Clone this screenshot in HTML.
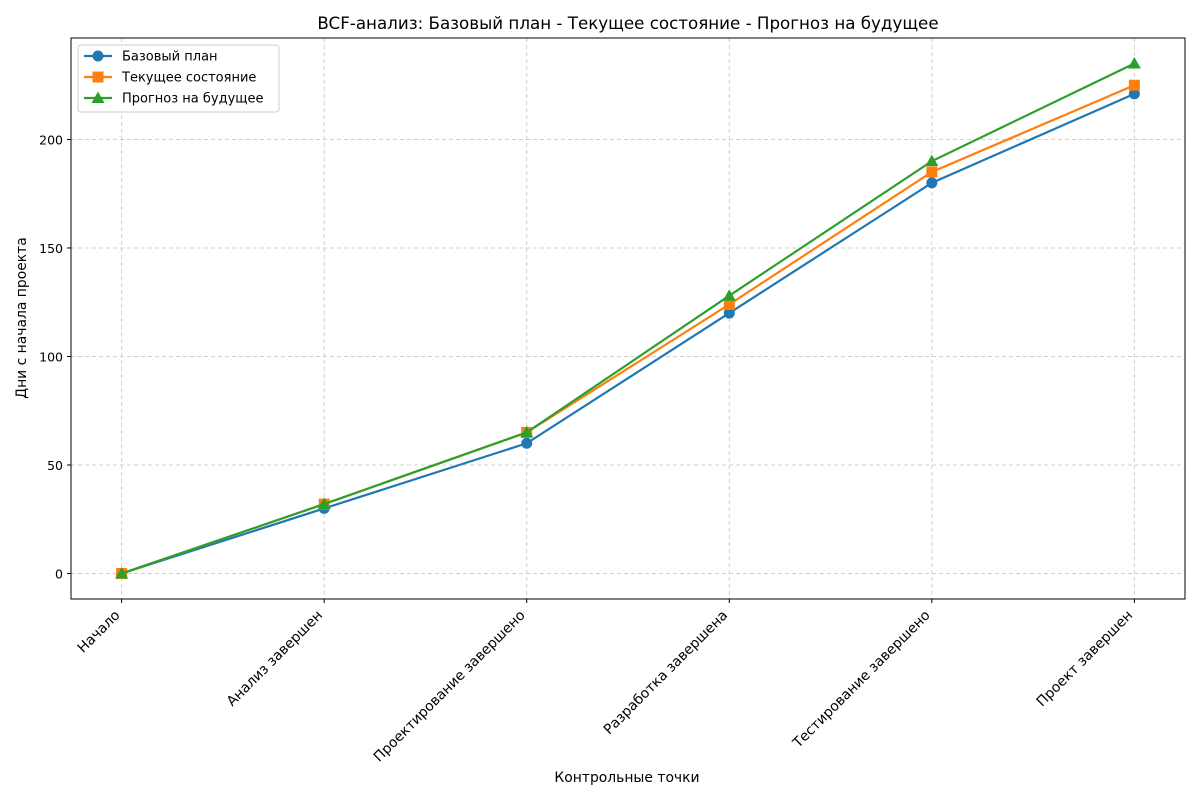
<!DOCTYPE html>
<html><head><meta charset="utf-8"><style>
body{margin:0;background:#fff;}
svg text{font-family:"DejaVu Sans","Liberation Sans",sans-serif;}
</style></head><body>
<svg id="chart" width="1200" height="800" xmlns="http://www.w3.org/2000/svg">
<rect width="1200" height="800" fill="#fff"/>
<text x="628" y="29" font-size="16.7" text-anchor="middle">BCF-анализ: Базовый план - Текущее состояние - Прогноз на будущее</text>
<g id="grid"></g>
<g id="axes"></g>
<g id="series"></g>
<rect x="71" y="38" width="1114" height="561" fill="none" stroke="#000" stroke-width="1"/>
<text x="627" y="782" font-size="13.9" text-anchor="middle">Контрольные точки</text>
<text transform="translate(26,318) rotate(-90)" font-size="13.9" text-anchor="middle">Дни с начала проекта</text>
<g id="legend">
<rect x="78" y="45" width="201" height="67" rx="3" fill="#fff" fill-opacity="0.8" stroke="#ccc"/>
</g>
</svg>
<script>
const categories=["Начало","Анализ завершен","Проектирование завершено","Разработка завершена","Тестирование завершено","Проект завершен"];
const baseline=[0,30,60,120,180,221];
const current=[0,32,65,124,185,225];
const forecast=[0,32,65,128,190,235];
const seriesNames=["Базовый план","Текущее состояние","Прогноз на будущее"];
const yTicks=[0,50,100,150,200];

const NS="http://www.w3.org/2000/svg";
const L=71,R=1185,T=38,B=599;
const xMin=-0.25,xMax=categories.length-1+0.25,yMin=-11.75,yMax=246.75;
const xs=i=>L+(i-xMin)/(xMax-xMin)*(R-L);
const ys=v=>B-(v-yMin)/(yMax-yMin)*(B-T);
function mk(tag,attrs,parent){const e=document.createElementNS(NS,tag);for(const k in attrs)e.setAttribute(k,attrs[k]);parent.appendChild(e);return e;}
const grid=document.getElementById('grid'),axes=document.getElementById('axes'),ser=document.getElementById('series'),leg=document.getElementById('legend');
yTicks.forEach(v=>{const y=ys(v);
const g=mk('line',{x1:L,x2:R,y1:y,y2:y,stroke:'#b0b0b0','stroke-dasharray':'4,3','stroke-opacity':0.6},grid);


mk('line',{x1:L-4,x2:L,y1:y,y2:y,stroke:'#000'},axes);
const t=mk('text',{x:L-8,y:y+5,'font-size':12.5,'text-anchor':'end'},axes);t.textContent=v;


});
categories.forEach((c,i)=>{const x=xs(i);
const g=mk('line',{x1:x,x2:x,y1:T,y2:B,stroke:'#b0b0b0','stroke-dasharray':'4,3','stroke-opacity':0.6},grid);


mk('line',{x1:x,x2:x,y1:B,y2:B+4,stroke:'#000'},axes);
const t=mk('text',{transform:`translate(${x-1},${B+17}) rotate(-45)`,'font-size':13.9,'text-anchor':'end'},axes);t.textContent=c;


});
const colors=['#1f77b4','#ff7f0e','#2ca02c'];
const data=[baseline,current,forecast];
function marker(k,x,y,parent){
 if(k===0)return mk('circle',{cx:x,cy:y,r:5.5,fill:colors[0]},parent);
 if(k===1)return mk('rect',{x:x-5.5,y:y-5.5,width:11,height:11,fill:colors[1]},parent);
 return mk('polygon',{points:`${x},${y-6.5} ${x+6.5},${y+5} ${x-6.5},${y+5}`,fill:colors[2]},parent);
}
data.forEach((d,k)=>{
 const g=mk('g',{},ser);
 
 
 mk('polyline',{points:d.map((v,i)=>xs(i)+','+ys(v)).join(' '),fill:'none',stroke:colors[k],'stroke-width':2.2},g);
 d.forEach((v,i)=>{const m=marker(k,xs(i),ys(v),g);
 
 });
 const ly=56+k*21;
 mk('line',{x1:84,x2:112,y1:ly,y2:ly,stroke:colors[k],'stroke-width':2.2},leg);
 marker(k,98,ly,leg);
 const t=mk('text',{x:122,y:ly+4.5,'font-size':13},leg);t.textContent=seriesNames[k];
 
 
});
</script>
</body></html>
